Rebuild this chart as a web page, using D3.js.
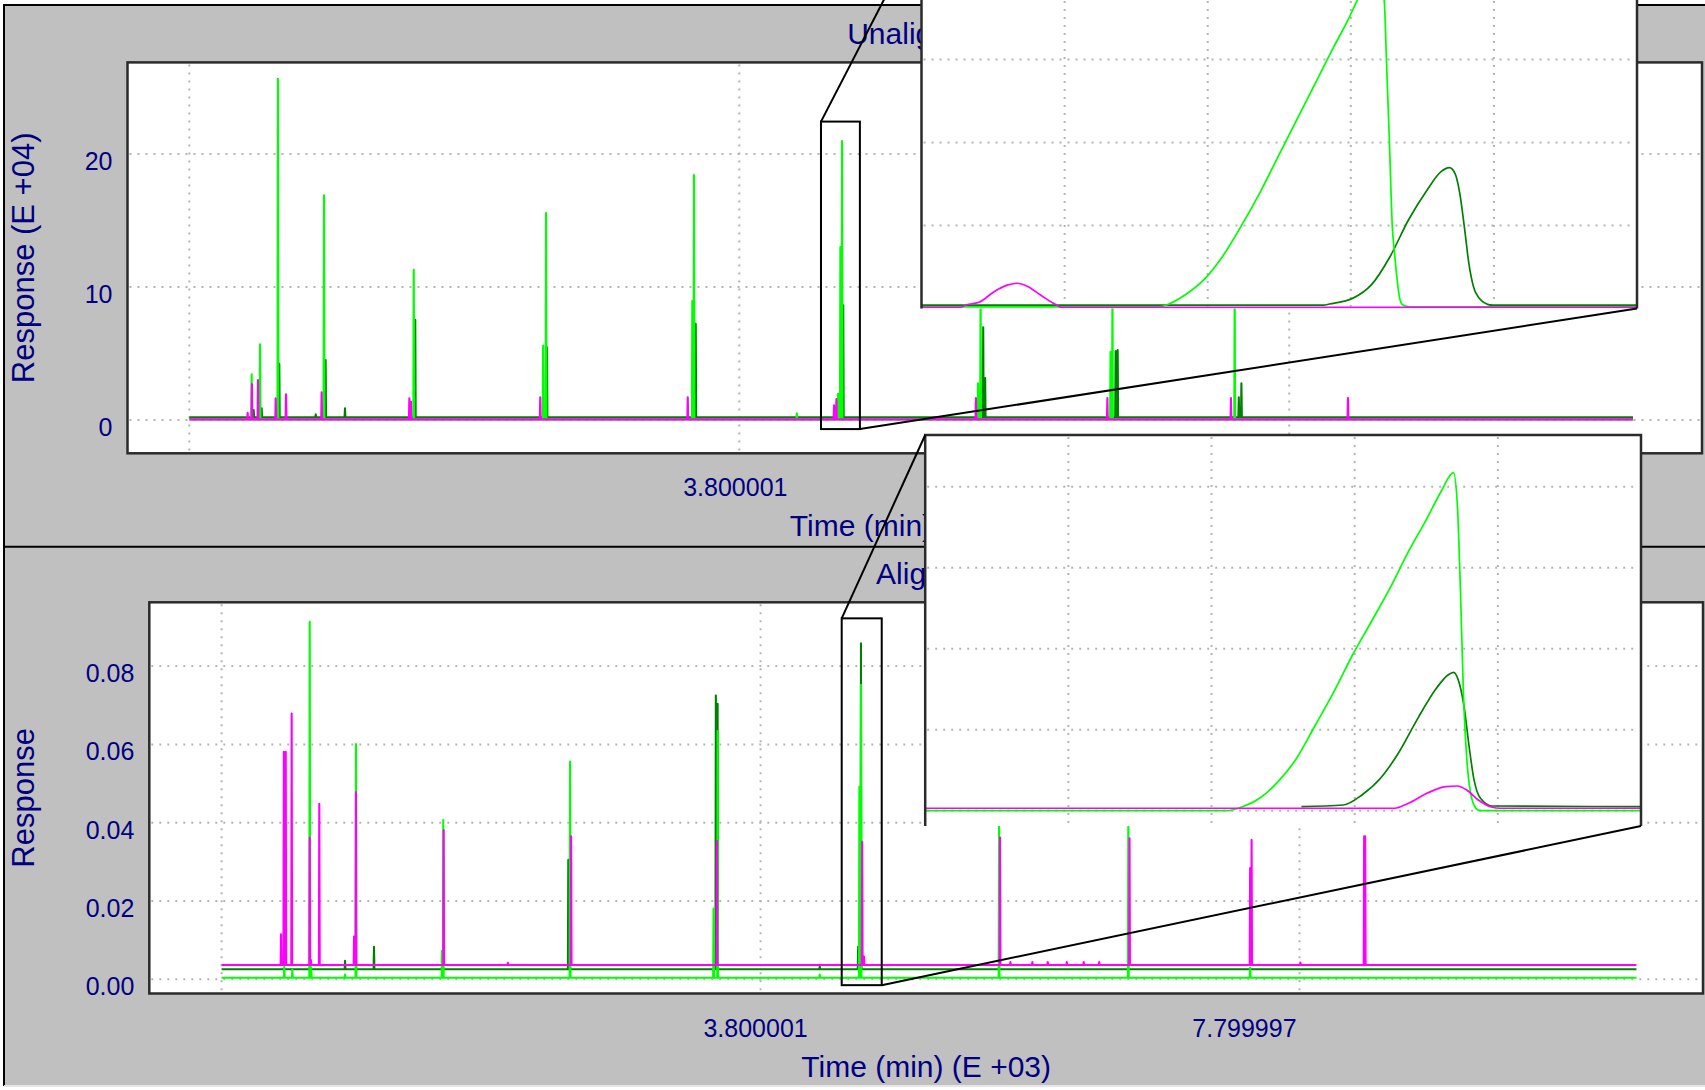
<!DOCTYPE html>
<html><head><meta charset="utf-8">
<script src="https://cdn.jsdelivr.net/npm/d3@7"></script>
<style>
html,body{margin:0;padding:0;background:#fff;overflow:hidden;}
svg{display:block;}
text{font-family:"Liberation Sans",Arial,sans-serif;fill:#000080;}
</style></head><body>
<svg id="chart" width="1705" height="1090"></svg>
<script>
// ---------------- data ----------------
const timeStart = -0.2, timeEnd = 10.3;               // E+03 min
const xGridValues = [-0.2, 3.800001, 7.799997];
const xTickLabels = ["", "3.800001", "7.799997"];
const topYTicks = [0, 10, 20];
const botYTicks = [0, 0.02, 0.04, 0.06, 0.08];
const panelTitles = ["Unaligned", "Aligned"];
const yTitles = ["Response (E +04)", "Response"];
const xTitle = "Time (min) (E +03)";

// Unaligned (E+04): baselines and peaks [time, response]
const topBaseDark = 0.2, topBaseLime = 0.05, topBaseMag = 0.05;
const topDarkPeaks = [
  [0.268, 0.75], [0.326, 0.88], [0.454, 4.22], [0.719, 0.43], [0.791, 4.52], [0.932, 0.88],
  [1.443, 7.53], [2.401, 5.47], [3.483, 7.24], [4.556, 8.63], [5.574, 6.97], [5.588, 3.16],
  [6.537, 5.18], [6.552, 5.26], [7.433, 1.71], [7.452, 2.77]
];
const topLimePeaks = [
  [0.253, 3.44], [0.314, 5.70], [0.444, 25.66], [0.779, 16.89], [1.432, 11.30],
  [2.373, 5.60], [2.394, 15.57], [3.458, 8.95], [3.470, 18.42], [4.218, 0.50],
  [4.518, 1.97], [4.535, 13.00], [4.547, 20.97], [5.536, 2.77], [5.555, 10.5],
  [6.500, 5.13], [6.514, 10.2], [7.403, 10.0]
];
const topMagPeaks = [
  [0.224, 0.55], [0.255, 2.71], [0.299, 3.01], [0.428, 1.64], [0.503, 1.94], [0.762, 2.09],
  [1.400, 1.64], [1.412, 1.38], [2.352, 1.71], [3.425, 1.71], [4.489, 1.10], [4.506, 1.57],
  [5.521, 1.66], [6.477, 1.66], [7.376, 1.66], [8.227, 1.66]
];

// Aligned: baselines and peaks [time, response]
const botBaseDark = 0.00255, botBaseLime = 0.0004, botBaseMag = 0.00365;
const botDarkPeaks = [
  [0.716, 0.0047], [0.931, 0.0083], [2.373, 0.0305], [3.468, 0.0725], [3.481, 0.0704],
  [4.239, 0.0033], [4.524, 0.0083], [4.545, 0.0858]
];
const botLimePeaks = [
  [0.265, 0.0032], [0.325, 0.0025], [0.454, 0.0913], [0.465, 0.0030], [0.716, 0.0012],
  [0.797, 0.0601], [1.436, 0.0073], [1.445, 0.0407], [2.386, 0.0556], [3.451, 0.0181],
  [3.481, 0.0634], [4.239, 0.0012], [4.533, 0.0492], [4.545, 0.0752], [5.570, 0.041],
  [6.529, 0.041], [7.433, 0.0030]
];
const botMagPeaks = [
  [0.241, 0.0115], [0.262, 0.0581], [0.276, 0.0581], [0.320, 0.0679], [0.454, 0.0362],
  [0.463, 0.0049], [0.525, 0.0448], [0.783, 0.0109], [0.797, 0.0478], [1.448, 0.0381],
  [1.925, 0.0042], [2.394, 0.0365], [3.476, 0.0353], [4.554, 0.0351], [4.567, 0.0058],
  [5.577, 0.0362], [5.654, 0.0044], [5.817, 0.0044], [5.931, 0.0044], [6.072, 0.0044],
  [6.198, 0.0044], [6.313, 0.0044], [6.538, 0.0360], [7.433, 0.0284], [7.444, 0.0356],
  [7.806, 0.0043], [8.279, 0.0365], [8.287, 0.0365]
];

// zoom windows [t0, t1, v0, v1]
const topZoomWindow = [4.394, 4.677, -0.68, 22.44];
const botZoomWindow = [4.402, 4.699, -0.0015, 0.0922];

// zoomed traces (unaligned)
const topInsetMag = [[4.394,0.07],[4.4092,0.07],[4.4117,0.21],[4.4172,0.41],[4.4227,1.01],[4.4282,1.42],
  [4.4319,1.52],[4.4356,1.36],[4.4411,0.81],[4.4467,0.27],[4.4496,0.07],[4.677,0.07]];
const topInsetLime = [[4.394,0.1],[4.4883,0.1],[4.4909,0.21],[4.4982,0.81],[4.5056,1.72],[4.5130,3.12],
  [4.5203,4.93],[4.5277,6.94],[4.5350,9.14],[4.5424,11.36],[4.5498,13.57],[4.5571,15.77],[4.5627,17.38],
  [4.5664,18.58],[4.5728,20.4],[4.5770,18.58],[4.5779,14.97],[4.5791,9.91],[4.5802,4.99],[4.5811,3.33],
  [4.5833,0.51],[4.5844,0.21],[4.5872,0.1],[4.677,0.1]];
const topInsetDark = [[4.394,0.2],[4.5530,0.2],[4.5553,0.27],[4.5645,0.61],[4.5719,1.42],[4.5793,3.12],
  [4.5866,5.33],[4.5940,7.14],[4.5995,8.24],[4.6028,8.48],[4.6050,8.14],[4.6069,6.94],[4.6087,4.93],
  [4.6105,2.72],[4.6133,0.92],[4.6179,0.25],[4.6200,0.2],[4.677,0.2]];
const topInsetYTicks = [5, 10, 15, 20];

// zoomed traces (aligned)
const botInsetLime = [[4.402,0],[4.5272,0],[4.5330,0.00084],[4.5407,0.00306],[4.5484,0.00716],[4.5561,0.01294],
  [4.5639,0.02116],[4.5716,0.02938],[4.5793,0.03844],[4.5871,0.04666],[4.5948,0.05491],[4.6025,0.06395],
  [4.6102,0.07219],[4.6160,0.07876],[4.6212,0.08345],[4.6228,0.07548],[4.6241,0.05407],[4.6253,0.02938],
  [4.6267,0.01294],[4.6282,0.00469],[4.6305,0.00059],[4.6324,0],[4.699,0]];
const botInsetDark = [[4.5581,0.001],[4.5755,0.0014],[4.5832,0.00388],[4.5909,0.008],[4.5987,0.01457],
  [4.6064,0.02281],[4.6141,0.03022],[4.6189,0.0335],[4.6212,0.03417],[4.6238,0.03103],[4.6257,0.02528],
  [4.6276,0.01622],[4.6296,0.008],[4.6324,0.00306],[4.6373,0.00116],[4.699,0.001]];
const botInsetMag = [[4.402,0.0006],[4.5967,0.0006],[4.6025,0.00183],[4.6102,0.0043],[4.6180,0.00593],
  [4.6228,0.0061],[4.6267,0.00511],[4.6315,0.00264],[4.6373,0.00084],[4.6405,0.0006],[4.699,0.0006]];
const botInsetYTicks = [0, 0.02, 0.04, 0.06, 0.08];

// ---------------- drawing ----------------
const COL = {dark: "#008000", lime: "#00ff00", mag: "#ff00ff", grid: "#b4b4b4", panel: "#c0c0c0"};
const svg = d3.select("#chart");
const defs = svg.append("defs");
const hw = 0.003;

function spikeSeries(base, peaks) {
  const pts = [[timeStart, base]];
  peaks.slice().sort((a, b) => a[0] - b[0]).forEach(([t, v]) => {
    pts.push([t - hw, base], [t, v], [t + hw, base]);
  });
  pts.push([timeEnd, base]);
  return pts;
}

// panels
[[5, 546.7], [546.7, 1086]].forEach(([y0, y1]) => {
  svg.append("rect").attr("x", 4).attr("y", y0).attr("width", 1710).attr("height", y1 - y0).attr("fill", COL.panel);
});
svg.append("path").attr("d", "M4,1086 V5 H1710").attr("fill", "none").attr("stroke", "#000").attr("stroke-width", 2);
svg.append("line").attr("x1", 4).attr("x2", 1710).attr("y1", 546.7).attr("y2", 546.7).attr("stroke", "#000").attr("stroke-width", 2);
svg.append("line").attr("x1", 4).attr("x2", 1710).attr("y1", 1086).attr("y2", 1086).attr("stroke", "#e6e6e6").attr("stroke-width", 2);

const plots = [
  {id: "top", L: 127.5, T: 62.4, R: 1702, B: 453.3, xd: [-0.650, 10.802], yd: [-2.50, 26.89],
   yTicks: topYTicks, fmt: d3.format("d"), title: panelTitles[0], yTitle: yTitles[0],
   series: [[COL.dark, spikeSeries(topBaseDark, topDarkPeaks)], [COL.lime, spikeSeries(topBaseLime, topLimePeaks)], [COL.mag, spikeSeries(topBaseMag, topMagPeaks)]],
   win: topZoomWindow, labelDx: -4},
  {id: "bot", L: 149.3, T: 602.3, R: 1703, B: 993.5, xd: [-0.7366, 10.794], yd: [-0.00363, 0.0963],
   yTicks: botYTicks, fmt: d3.format(".2f"), title: panelTitles[1], yTitle: yTitles[1],
   series: [[COL.dark, spikeSeries(botBaseDark, botDarkPeaks)], [COL.lime, spikeSeries(botBaseLime, botLimePeaks)], [COL.mag, spikeSeries(botBaseMag, botMagPeaks)]],
   win: botZoomWindow, labelDx: -5}
];

plots.forEach(p => {
  p.x = d3.scaleLinear().domain(p.xd).range([p.L, p.R]);
  p.y = d3.scaleLinear().domain(p.yd).range([p.B, p.T]);
  const g = svg.append("g");
  g.append("rect").attr("x", p.L).attr("y", p.T).attr("width", p.R - p.L).attr("height", p.B - p.T).attr("fill", "#fff");
  // grid
  g.selectAll(".gx").data(xGridValues).join("line")
    .attr("x1", d => p.x(d)).attr("x2", d => p.x(d)).attr("y1", p.T + 2).attr("y2", p.B - 2)
    .attr("stroke", COL.grid).attr("stroke-width", 2).attr("stroke-dasharray", "2 6");
  g.selectAll(".gy").data(p.yTicks).join("line")
    .attr("x1", p.L + 2).attr("x2", p.R - 2).attr("y1", d => p.y(d)).attr("y2", d => p.y(d))
    .attr("stroke", COL.grid).attr("stroke-width", 2).attr("stroke-dasharray", "2 6");
  // series
  defs.append("clipPath").attr("id", "clip-" + p.id).append("rect")
    .attr("x", p.L).attr("y", p.T).attr("width", p.R - p.L).attr("height", p.B - p.T);
  const line = d3.line().x(d => p.x(d[0])).y(d => p.y(d[1]));
  const sg = g.append("g").attr("clip-path", `url(#clip-${p.id})`);
  p.series.forEach(([c, pts]) => {
    sg.append("path").attr("d", line(pts)).attr("fill", "none").attr("stroke", c)
      .attr("stroke-width", 2.1).attr("stroke-linejoin", "round");
  });
  // zoom box
  const [t0, t1, v0, v1] = p.win;
  p.box = {x0: p.x(t0), x1: p.x(t1), y0: p.y(v1), y1: p.y(v0)};
  g.append("rect").attr("x", p.box.x0).attr("y", p.box.y0).attr("width", p.box.x1 - p.box.x0)
    .attr("height", p.box.y1 - p.box.y0).attr("fill", "none").attr("stroke", "#000").attr("stroke-width", 2);
  // frame
  g.append("rect").attr("x", p.L).attr("y", p.T).attr("width", p.R - p.L).attr("height", p.B - p.T)
    .attr("fill", "none").attr("stroke", "#2b2b2b").attr("stroke-width", 2.5);
  // y tick labels
  g.selectAll(".yl").data(p.yTicks).join("text")
    .attr("x", p.L - 15).attr("y", d => p.y(d) + 16).attr("text-anchor", "end")
    .attr("font-size", 25).text(d => p.fmt(d));
  // x tick labels
  g.selectAll(".xl").data(xGridValues.map((v, i) => [v, xTickLabels[i]]).filter(d => d[1])).join("text")
    .attr("x", (d, i, arr) => p.x(d[0]) + (i === arr.length - 1 ? -3 : p.labelDx))
    .attr("text-anchor", (d, i, arr) => i === arr.length - 1 ? "end" : "middle")
    .attr("y", p.B + 43).attr("font-size", 25).text(d => d[1]);
  // titles
  g.append("text").attr("x", (p.L + p.R) / 2).attr("y", p.T - 18.5).attr("text-anchor", "middle")
    .attr("font-size", 30).text(p.title);
  g.append("text").attr("x", (p.L + p.R) / 2).attr("y", p.B + 83).attr("text-anchor", "middle")
    .attr("font-size", 30).text(xTitle);
  g.append("text").attr("transform", `translate(34,${(p.T + p.B) / 2}) rotate(-90)`)
    .attr("text-anchor", "middle").attr("font-size", 31).text(p.yTitle);
});

// insets
const insets = [
  {id: "in1", L: 921.5, T: -73, R: 1637, B: 308.5, xd: [topZoomWindow[0], topZoomWindow[1]], yd: [0, 22.98],
   yTicks: topInsetYTicks, series: [[COL.dark, topInsetDark], [COL.lime, topInsetLime], [COL.mag, topInsetMag]], plot: plots[0]},
  {id: "in2", L: 925.2, T: 435, R: 1641, B: 826, xd: [botZoomWindow[0], botZoomWindow[1]], yd: [-0.00378, 0.09276],
   yTicks: botInsetYTicks, series: [[COL.dark, botInsetDark], [COL.lime, botInsetLime], [COL.mag, botInsetMag]], plot: plots[1]}
];

insets.forEach(s => {
  s.x = d3.scaleLinear().domain(s.xd).range([s.L, s.R]);
  s.y = d3.scaleLinear().domain(s.yd).range([s.B, s.T]);
  const g = svg.append("g");
  g.append("rect").attr("x", s.L).attr("y", s.T).attr("width", s.R - s.L).attr("height", s.B - s.T).attr("fill", "#fff");
  const gx = d3.range(1, 5).map(i => s.xd[0] + i * (s.xd[1] - s.xd[0]) / 5);
  g.selectAll(".gx").data(gx).join("line")
    .attr("x1", d => s.x(d)).attr("x2", d => s.x(d)).attr("y1", s.T + 2).attr("y2", s.B - 2)
    .attr("stroke", COL.grid).attr("stroke-width", 2).attr("stroke-dasharray", "2 6");
  g.selectAll(".gy").data(s.yTicks).join("line")
    .attr("x1", s.L + 2).attr("x2", s.R - 2).attr("y1", d => s.y(d)).attr("y2", d => s.y(d))
    .attr("stroke", COL.grid).attr("stroke-width", 2).attr("stroke-dasharray", "2 6");
  defs.append("clipPath").attr("id", "clip-" + s.id).append("rect")
    .attr("x", s.L).attr("y", s.T).attr("width", s.R - s.L).attr("height", s.B - s.T);
  const line = d3.line().x(d => s.x(d[0])).y(d => s.y(d[1])).curve(d3.curveMonotoneX);
  const sg = g.append("g").attr("clip-path", `url(#clip-${s.id})`);
  s.series.forEach(([c, pts]) => {
    sg.append("path").attr("d", line(pts)).attr("fill", "none").attr("stroke", c)
      .attr("stroke-width", 1.7).attr("stroke-linejoin", "round");
  });
  g.append("path").attr("d", `M${s.L},${s.B} V${s.T} H${s.R} V${s.B}`)
    .attr("fill", "none").attr("stroke", "#2b2b2b").attr("stroke-width", 2.5);
  // connectors
  const b = s.plot.box;
  svg.append("line").attr("x1", b.x0).attr("y1", b.y0).attr("x2", s.L).attr("y2", s.T)
    .attr("stroke", "#000").attr("stroke-width", 2);
  s.conn2 = [b.x1, b.y1, s.R, s.B];
});
insets.forEach(s => {
  svg.append("line").attr("x1", s.conn2[0]).attr("y1", s.conn2[1]).attr("x2", s.conn2[2]).attr("y2", s.conn2[3])
    .attr("stroke", "#000").attr("stroke-width", 2);
});
</script>
</body></html>
